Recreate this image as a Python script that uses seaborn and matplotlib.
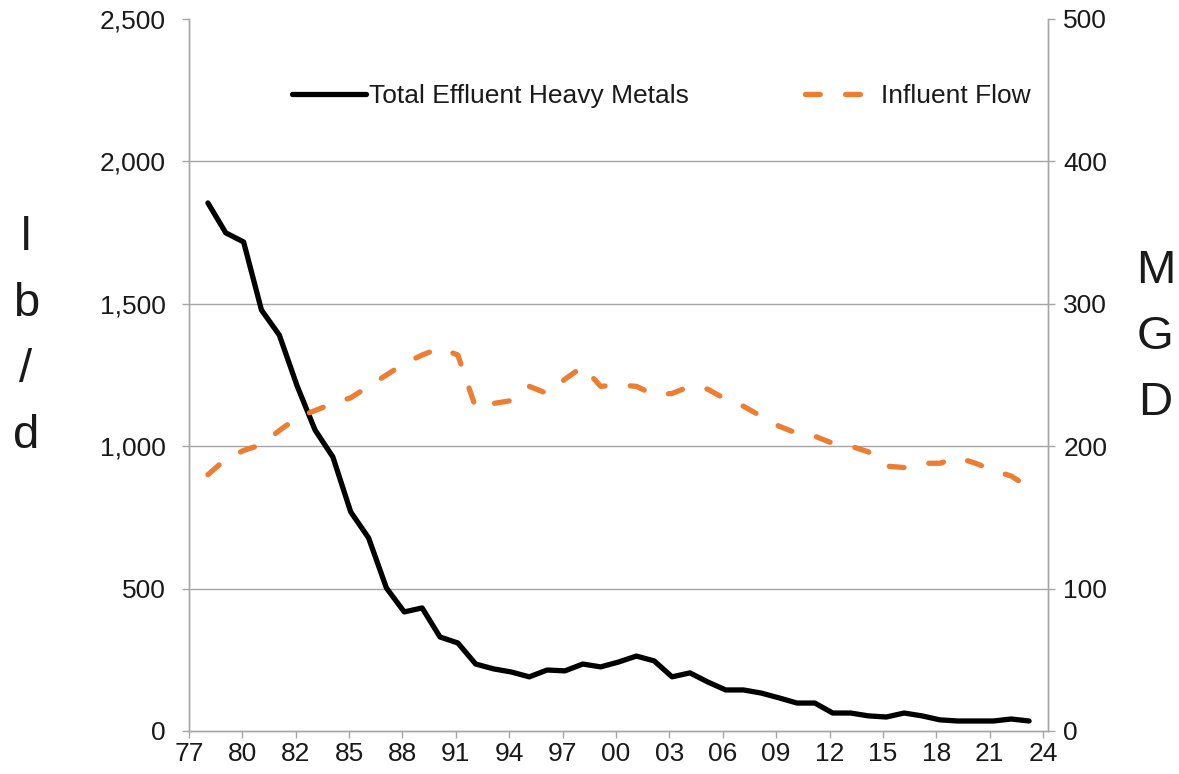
import numpy as np
import pandas as pd
import matplotlib
matplotlib.use("Agg")
import matplotlib.pyplot as plt
import seaborn as sns
from matplotlib.ticker import FuncFormatter

# Datos
anios = list(range(1978, 2025))
metales_lbd = [1854, 1749, 1717, 1478, 1390, 1211, 1057, 962, 769, 678,
               502, 418, 432, 330, 309, 235, 218, 207, 190, 214,
               211, 235, 225, 242, 263, 246, 190, 204, 172, 144,
               144, 133, 116, 98, 98, 63, 63, 53, 49, 63,
               53, 39, 35, 35, 35, 42, 35]
caudal_mgd = [180, 191, 197, 201, 211, 220, 225, 230, 234, 242,
              250, 258, 264, 269, 264, 227, 230, 232, 242, 237,
              247, 256, 242, 243, 242, 236, 237, 242, 240, 233,
              228, 221, 214, 209, 207, 202, 200, 196, 186, 185,
              188, 188, 192, 188, 183, 179, 171]
etiquetas_x = ["77", "80", "82", "85", "88", "91", "94", "97", "00", "03",
               "06", "09", "12", "15", "18", "21", "24"]

df = pd.DataFrame({"anio": anios, "metales": metales_lbd, "caudal": caudal_mgd})

sns.set_style("white")
plt.rcParams["font.family"] = ["Liberation Sans", "DejaVu Sans"]

GRIS = "#a6a6a6"
NARANJA = "#ED7D31"
TEXTO = "#1a1a1a"

fig = plt.figure(figsize=(11.79, 7.74), dpi=100)
ax = fig.add_axes([0.1603, 0.0556, 0.7286, 0.9199])
ax2 = ax.twinx()

sns.lineplot(data=df, x="anio", y="metales", ax=ax, color="black", linewidth=3.8,
             solid_capstyle="round", solid_joinstyle="round", label="Total Effluent Heavy Metals")
sns.lineplot(data=df, x="anio", y="caudal", ax=ax2, color=NARANJA, linewidth=3.8,
             linestyle=(0, (2.8, 4.8)), dash_capstyle="round", dash_joinstyle="round",
             label="Influent Flow")

ax.set_xlim(1976.94, 2025.06)
ax.set_ylim(0, 2500)
ax2.set_ylim(0, 500)
ax.set_xticks(np.linspace(1976.94, 2024.78, 17))
ax.set_xticklabels(etiquetas_x)
ax.set_yticks([0, 500, 1000, 1500, 2000, 2500])
ax.yaxis.set_major_formatter(FuncFormatter(lambda v, p: f"{int(v):,}"))
ax2.set_yticks([0, 100, 200, 300, 400, 500])

ax.set_xlabel("")
ax.set_ylabel("")
ax2.set_ylabel("")

ax.grid(True, axis="y", color=GRIS, linewidth=1.0)
ax.get_ygridlines()[-1].set_visible(False)
ax.get_ygridlines()[0].set_visible(False)
ax.set_axisbelow(True)

for a in (ax, ax2):
    a.spines["top"].set_visible(False)
    for s in ("left", "right", "bottom"):
        a.spines[s].set_color(GRIS)
        a.spines[s].set_linewidth(1.0)

ax.tick_params(axis="y", direction="out", length=5, width=1, color=GRIS,
               labelsize=19, labelcolor=TEXTO, pad=12, left=True)
ax.tick_params(axis="x", direction="out", length=5, width=1, color=GRIS,
               labelsize=19, labelcolor=TEXTO, pad=3, bottom=True)
ax2.tick_params(axis="y", direction="out", length=5, width=1, color=GRIS,
                labelsize=19, labelcolor=TEXTO, pad=6, right=True)

# Leyenda
h1, l1 = ax.get_legend_handles_labels()
h2, l2 = ax2.get_legend_handles_labels()
ax.get_legend().remove()
ax2.get_legend().remove()
fig.legend(h1 + h2, l1 + l2, loc="center", bbox_to_anchor=(0.561, 0.876), ncol=2,
           frameon=False, fontsize=19, handlelength=2.8, handletextpad=0.1,
           columnspacing=4.4, labelcolor=TEXTO)

# Etiquetas de los ejes en vertical
fig.text(0.022, 0.565, "l\nb\n/\nd", fontsize=34, ha="center", va="center",
         color=TEXTO, linespacing=1.65)
fig.text(0.98, 0.565, "M\nG\nD", fontsize=34, ha="center", va="center",
         color=TEXTO, linespacing=1.65)

fig.savefig("out.png", dpi=100)
